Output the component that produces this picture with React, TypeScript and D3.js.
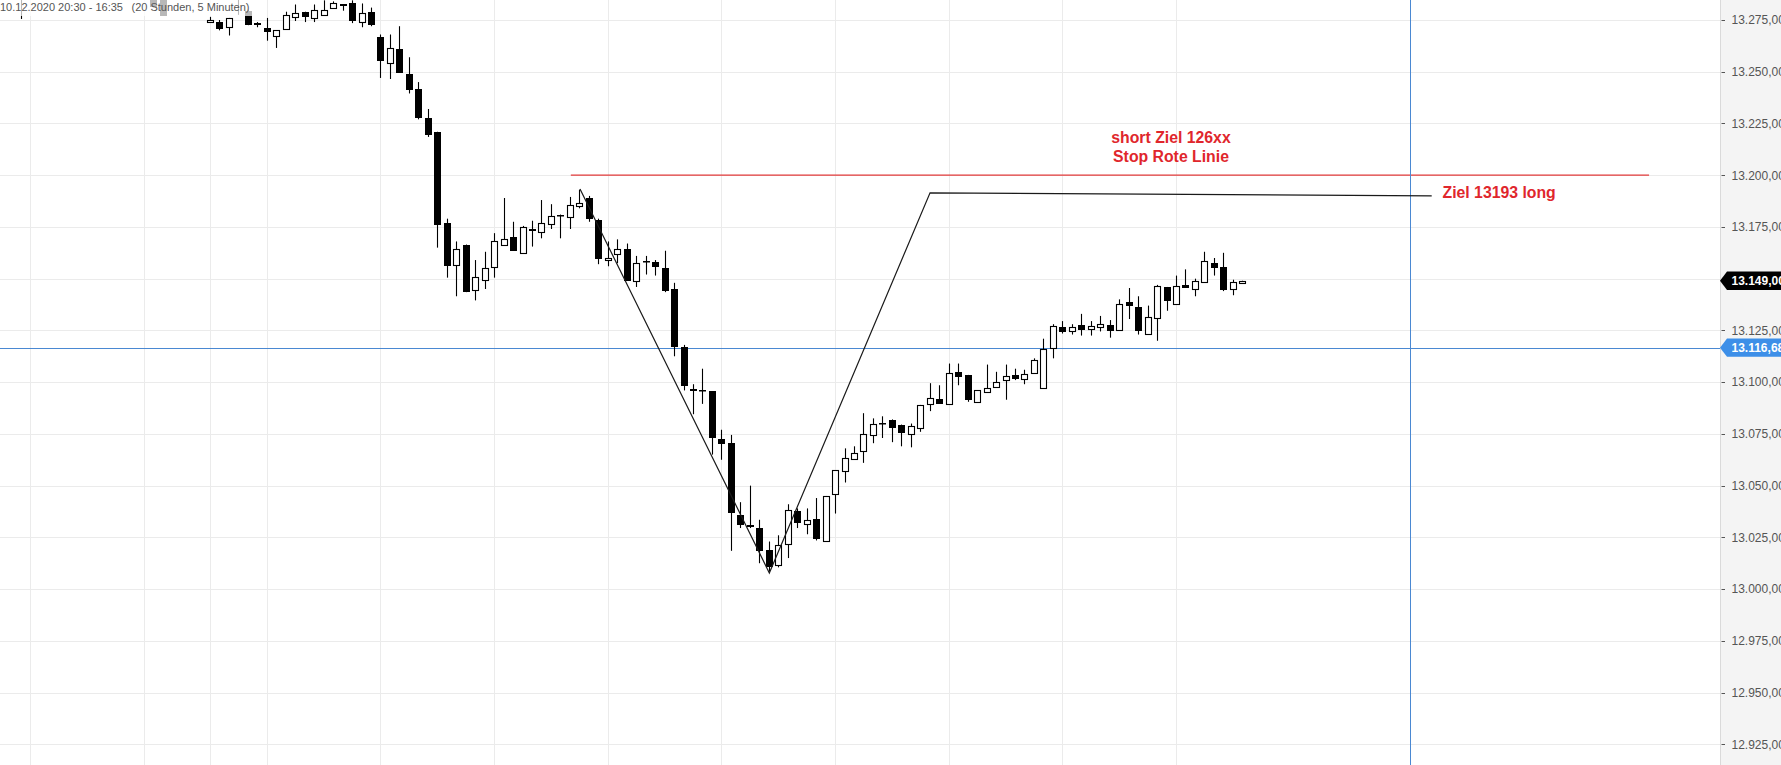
import React from 'react';
import * as d3 from 'd3';

// ---- data ----
const barIdx: number[] = [-20, -6, -5, ...d3.range(0, 110)];
const opens: number[] = [13290, 13291, 13289,
  13274, 13274, 13271.5, 13290, 13279.5, 13273.5, 13271, 13267.5, 13270.5, 13276.5,
  13279, 13276, 13277.5, 13281, 13282.5, 13283, 13274, 13279, 13267, 13254,
  13261, 13249, 13241.5, 13227.5, 13221, 13177, 13156.5, 13166.5, 13144.5, 13149.5,
  13155.5, 13166.5, 13170, 13162.5, 13174, 13172.5, 13176.5, 13180.7, 13180, 13185,
  13189, 13178.5, 13159, 13162, 13164.5, 13149, 13158.5, 13158, 13155, 13145,
  13117, 13096.5, 13096, 13095.5, 13072.5, 13070.5, 13036, 13031, 13029.5, 13019,
  13011.5, 13022, 13037.5, 13031.5, 13034, 13023, 13046, 13057, 13063, 13066.5,
  13074.5, 13080.5, 13081.5, 13079.5, 13075, 13078, 13089.5, 13092, 13089.5, 13105,
  13103.5, 13090.5, 13095, 13097.5, 13101, 13103.5, 13101.5, 13104.5, 13097, 13116.5,
  13126.5, 13124.5, 13127.5, 13125.5, 13126.5, 13127.5, 13125, 13138.5, 13136.5, 13123.5,
  13131, 13146, 13138, 13147, 13145, 13148.5, 13157.5, 13155.5, 13145, 13148];
const highs: number[] = [13295, 13293, 13291,
  13276.5, 13275, 13276, 13292, 13280, 13274, 13276, 13270, 13279, 13282.5,
  13279, 13282.5, 13284.5, 13284, 13282.5, 13284.5, 13283, 13281, 13268, 13268,
  13272, 13257, 13245, 13232, 13221, 13179, 13168, 13166.5, 13159, 13163,
  13172, 13189, 13177.5, 13175.5, 13178, 13188, 13186, 13181, 13189.5, 13193,
  13190, 13179, 13168, 13169, 13167, 13161, 13161, 13159, 13163.5, 13148,
  13118, 13099, 13106.5, 13095.5, 13077, 13074.5, 13042, 13050, 13033.5, 13023,
  13026, 13041, 13039, 13039, 13044, 13045, 13057.5, 13068, 13069, 13085,
  13082.5, 13083.5, 13082, 13079.5, 13080, 13089, 13099.5, 13098.5, 13109, 13109,
  13103.5, 13096, 13108.5, 13105, 13108.5, 13106.5, 13106, 13111.5, 13121, 13128,
  13129.5, 13128, 13133, 13129.5, 13132, 13130, 13140, 13145.5, 13141.5, 13137,
  13147, 13146, 13151.5, 13154.5, 13150, 13163, 13160, 13162.5, 13149.5, 13149];
const lows: number[] = [13275.5, 13281.5, 13277,
  13274, 13270, 13267.5, 13277.5, 13272.5, 13271.5, 13265, 13261.5, 13270.5, 13274.5,
  13274, 13274, 13277.5, 13280.5, 13279.5, 13273.5, 13271.5, 13272, 13247, 13246.5,
  13249.5, 13239.5, 13227, 13218.5, 13165, 13150.5, 13141.5, 13143.5, 13139.5, 13145,
  13150.5, 13166, 13163.5, 13162, 13165.5, 13169.5, 13174, 13169.5, 13174, 13184,
  13177.5, 13157, 13156, 13157.5, 13149, 13146, 13152, 13151.5, 13143.5, 13112.5,
  13096, 13084.5, 13089.5, 13065, 13062.5, 13018.5, 13029.5, 13029.5, 13012.5, 13008.5,
  13010.5, 13015, 13029.5, 13026.5, 13023.5, 13023, 13036.5, 13051.5, 13063, 13061,
  13070.5, 13073, 13071, 13069, 13068.5, 13076, 13086, 13089.5, 13089.5, 13098.5,
  13090.5, 13090.5, 13095, 13097.5, 13091.5, 13101, 13099, 13104.5, 13097, 13111.5,
  13123.5, 13123, 13122.5, 13122.5, 13124.5, 13121.5, 13125, 13130.5, 13123, 13123.5,
  13120, 13134.5, 13138, 13145.5, 13141.5, 13148.5, 13151.5, 13144, 13142, 13148];
const closes: number[] = [13286, 13281.5, 13277,
  13275, 13270.5, 13276, 13287, 13272.5, 13272.5, 13269, 13270, 13277.5, 13278.5,
  13276.5, 13280, 13280, 13283, 13282, 13274.5, 13278.5, 13272.5, 13255, 13261.5,
  13249.5, 13241, 13227.5, 13219.5, 13176, 13156, 13164.5, 13143.5, 13151, 13155,
  13168, 13169, 13163.5, 13175, 13173, 13177, 13180.5, 13180.5, 13185.5, 13186.5,
  13179, 13159.5, 13160, 13164.5, 13149, 13157.5, 13158, 13155.5, 13144, 13117,
  13098, 13095.5, 13095.5, 13073, 13070, 13037, 13031, 13030, 13018.5, 13010.5,
  13021.5, 13038, 13032, 13033.5, 13024, 13045, 13057.5, 13063.5, 13066, 13075,
  13080, 13080, 13078, 13075.5, 13079, 13089, 13092.5, 13089.5, 13104.5, 13102.5,
  13091.5, 13096, 13097, 13100, 13103, 13101.5, 13104, 13110.5, 13116, 13127,
  13124, 13126.5, 13125, 13127, 13128, 13124.5, 13138, 13137, 13124.5, 13131.5,
  13146.5, 13139, 13146.5, 13145.5, 13149, 13158.5, 13155, 13144.5, 13148.5, 13149];

const yTicks: number[] = [12925, 12950, 12975, 13000, 13025, 13050, 13075, 13100, 13125, 13150, 13175, 13200, 13225, 13250, 13275];
const xGridIdx: number[] = [-19, -7, 0, 6, 18, 30, 42, 54, 66, 78, 90, 102];

const zigIdx: number[] = [39.07, 59.06, 76.03, 129.0];
const zigVal: number[] = [13193.3, 13007.8, 13191.5, 13190.0];

const stopLevel = 13200;
const stopFromTo: number[] = [38.1, 151.95];
const lastPrice = 13149;
const crossValue = 13116.68;
const crossIdx = 126.75;

const titleLeft = '10.12.2020 20:30 - 16:35';
const titleRight = '(20 Stunden, 5 Minuten)';
const noteLines: string[] = ['short Ziel 126xx', 'Stop Rote Linie'];
const targetNote = 'Ziel 13193 long';

const FONT = '"Liberation Sans", Arial, Helvetica, sans-serif';

export default function App() {
  const W = 1781, H = 765, plotR = 1720;
  const x = d3.scaleLinear().domain([0, 109]).range([210, 1242.3]);
  const y = d3.scaleLinear().domain([12925, 13275]).range([744.3, 20]);
  const fmt = d3.formatLocale({ decimal: ',', thousands: '.', grouping: [3], currency: ['', ''] }).format(',.2f');

  const bars = barIdx.map((b, k) => ({ i: b, o: opens[k], h: highs[k], l: lows[k], c: closes[k] }));
  const zigLine = d3.line<number>().x(k => x(zigIdx[k])).y(k => y(zigVal[k]))(d3.range(zigIdx.length)) || '';

  const tagPath = (cy: number) => {
    const t = cy - 9.2, b = cy + 9.2;
    return `M${plotR},${cy} L${plotR + 7},${t} L${W},${t} L${W},${b} L${plotR + 7},${b} Z`;
  };
  const lastY = y(lastPrice);
  const crossY = Math.round(y(crossValue)) + 0.5;
  const crossX = Math.round(x(crossIdx)) + 0.5;

  return (
    <svg width={W} height={H} style={{ position: 'absolute', left: 0, top: 0, display: 'block' }} fontFamily={FONT}>
      <defs>
        <clipPath id="plotClip"><rect x={0} y={0} width={plotR} height={H} /></clipPath>
      </defs>
      <rect x={0} y={0} width={W} height={H} fill="#ffffff" />
      <g clipPath="url(#plotClip)">
        {yTicks.map(v => (
          <line key={'h' + v} x1={0} x2={plotR} y1={Math.round(y(v)) + 0.5} y2={Math.round(y(v)) + 0.5} stroke="#ebebeb" strokeWidth={1} />
        ))}
        {xGridIdx.map(i => (
          <line key={'v' + i} x1={Math.round(x(i)) + 0.5} x2={Math.round(x(i)) + 0.5} y1={0} y2={H} stroke="#ebebeb" strokeWidth={1} />
        ))}
        <line x1={x(stopFromTo[0])} x2={x(stopFromTo[1])} y1={y(stopLevel)} y2={y(stopLevel)} stroke="#e23a3a" strokeWidth={1.3} />
        <line x1={0} x2={plotR} y1={crossY} y2={crossY} stroke="#4a88d2" strokeWidth={1} />
        <line x1={crossX} x2={crossX} y1={0} y2={H} stroke="#4a88d2" strokeWidth={1} />
        {bars.map(d => {
          const cx = Math.round(x(d.i)) + 0.5;
          const up = d.c >= d.o;
          const yT = Math.round(y(Math.max(d.o, d.c)));
          const yB = Math.round(y(Math.min(d.o, d.c)));
          return (
            <g key={'b' + d.i}>
              <line x1={cx} x2={cx} y1={y(d.h)} y2={y(d.l)} stroke="#000" strokeWidth={1.1} />
              {up ? (
                <rect x={cx - 3} y={yT + 0.5} width={6} height={Math.max(1, yB - yT)} fill="#fff" stroke="#000" strokeWidth={1.1} />
              ) : (
                <rect x={cx - 3.5} y={yT} width={7} height={Math.max(1.5, yB - yT)} fill="#000" />
              )}
            </g>
          );
        })}
        <path d={zigLine} fill="none" stroke="#1a1a1a" strokeWidth={1.2} />
        <rect x={0} y={0} width={253} height={16} fill="#ffffff" fillOpacity={0.72} />
        <text x={0} y={11} fontSize={11} fill="#555">{titleLeft}</text>
        <text x={131.5} y={11} fontSize={11} fill="#555">{titleRight}</text>
      </g>

      <rect x={plotR} y={0} width={W - plotR} height={H} fill="#f4f4f4" />
      <line x1={plotR + 0.5} x2={plotR + 0.5} y1={0} y2={H} stroke="#dadada" strokeWidth={1} />
      {yTicks.map(v => (
        <g key={'t' + v}>
          <line x1={plotR + 1.5} x2={plotR + 5} y1={Math.round(y(v)) + 0.5} y2={Math.round(y(v)) + 0.5} stroke="#555" strokeWidth={1} />
          <text x={plotR + 11.5} y={y(v)} dy="0.36em" fontSize={12} fill="#555">{fmt(v)}</text>
        </g>
      ))}
      <path d={tagPath(lastY)} fill="#000" />
      <text x={plotR + 11.5} y={lastY} dy="0.36em" fontSize={12} fontWeight="bold" fill="#fff">{fmt(lastPrice)}</text>
      <path d={tagPath(y(crossValue))} fill="#3d8fe8" />
      <text x={plotR + 11.5} y={y(crossValue)} dy="0.36em" fontSize={12} fontWeight="bold" fill="#fff">{fmt(crossValue)}</text>

      <text x={1171} y={143.3} textAnchor="middle" fontSize={15.8} fontWeight="bold" fill="#e0262c">{noteLines[0]}</text>
      <text x={1171} y={161.7} textAnchor="middle" fontSize={15.8} fontWeight="bold" fill="#e0262c">{noteLines[1]}</text>
      <text x={1442.5} y={198} fontSize={15.8} fontWeight="bold" fill="#e0262c">{targetNote}</text>
    </svg>
  );
}
